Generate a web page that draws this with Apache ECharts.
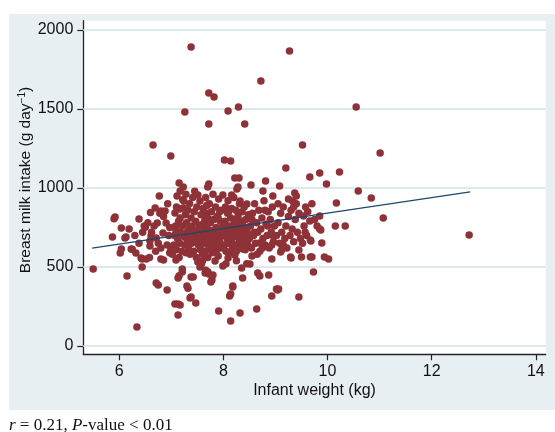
<!DOCTYPE html>
<html>
<head>
<meta charset="utf-8">
<script src="https://cdn.jsdelivr.net/npm/echarts@6/dist/echarts.min.js"></script>
<style>html,body{margin:0;padding:0;background:#fff}#c{width:555px;height:432px}</style>
</head>
<body>
<div id="c"></div>
<script>
// ---- tick labels ----
const weightTicks = [6, 8, 10, 12, 14];
const intakeTicks = [0, 500, 1000, 1500, 2000];
// ---- fitted regression line (kg, g/day) ----
const fitLine = [[5.48, 620], [12.74, 975]];
// ---- observations [infant weight kg, breast milk intake g/day] ----
const pointsHigh = [
  [7.38,1893],[9.27,1867],[8.72,1677],[7.72,1601],[7.82,1576],[7.26,1481],[8.09,1487],[8.29,1513],
  [7.72,1405],[8.41,1405],[10.55,1513],[6.65,1272],[6.99,1203],[9.52,1272],[8.02,1178],[8.14,1171],
  [11.01,1222],[9.20,1127],[9.66,1070],[9.85,1095],[10.23,1101],[9.98,1025],[9.08,1013],[10.59,981],
  [10.84,937],[10.17,905],[11.07,810],[12.72,703],[7.15,1032],[7.23,1006],[6.77,950],[7.72,1025],
  [7.70,1006],[8.22,1063],[8.30,1063],[8.53,1019],[8.81,1044],[8.28,1006],[8.26,994],[8.16,956],
  [8.76,981],[8.95,950],[9.37,969],[9.33,918]
];
const pointsLeft = [
  [5.50,487],[5.92,817],[5.90,805],[5.87,690],[6.04,747],[6.11,684],[6.13,690],[6.19,740],
  [6.02,589],[6.04,614],[6.15,443],[6.34,120],[6.38,804],[6.23,614],[6.25,612],[6.32,589],
  [6.44,551],[6.48,760],[6.50,752],[6.44,500],[6.42,557],[6.38,650],[6.30,700],[6.45,720],
  [6.52,551],[6.59,665],[6.59,633],[6.61,696],[6.67,760],[6.69,874],[6.71,684],[6.71,399],
  [6.75,386],[6.73,779],[6.78,840],[6.80,855],[6.80,620],[6.80,551],[6.84,715],[6.85,545],
  [6.88,855],[6.90,779],[6.92,354],[6.92,640],[6.95,700],[6.97,590],[6.99,620],[6.60,845],
  [6.55,780],[6.62,720],[6.70,600],[6.75,650],[6.85,820],[6.93,900],[6.97,750],[6.58,560]
];
const pointsLow = [
  [7.07,266],[7.13,266],[7.13,196],[7.13,430],[7.15,445],[7.09,544],[7.17,260],[7.21,468],
  [7.21,487],[7.30,380],[7.32,365],[7.36,304],[7.38,310],[7.38,437],[7.42,437],[7.47,272],
  [7.51,532],[7.55,500],[7.58,520],[7.65,462],[7.66,480],[7.72,456],[7.70,470],[7.76,405],
  [7.78,418],[7.80,449],[7.84,538],[7.91,221],[7.99,506],[7.60,540],
  [8.14,158],[8.32,209],[8.12,316],[8.14,329],[8.18,373],[8.18,380],[8.37,430],[8.35,494],
  [8.05,520],[8.25,540],[8.45,520],[8.64,234],[8.66,462],[8.70,443],[8.87,449],[8.93,316],
  [8.51,519],[8.55,570],[8.93,551],[9.02,361],[9.04,354],[9.45,310],[9.30,557],[9.29,563],
  [9.50,563],[9.67,563],[9.70,563],[9.94,563],[10.02,551],[9.73,468]
];
const pointsCore7 = [
  [7.02,580],[7.05,640],[7.06,700],[7.07,842],[7.08,760],[7.09,728],[7.10,610],[7.10,880],
  [7.12,680],[7.14,790],[7.15,560],[7.16,650],[7.17,810],[7.17,867],[7.18,720],[7.20,600],
  [7.21,760],[7.22,925],[7.23,874],[7.24,918],[7.25,690],[7.26,640],[7.27,830],[7.28,590],
  [7.29,780],[7.30,720],[7.31,670],[7.32,860],[7.33,620],[7.34,740],[7.35,900],[7.36,580],
  [7.37,690],[7.38,810],[7.39,650],[7.40,760],[7.41,940],[7.42,700],[7.43,600],[7.44,850],
  [7.45,730],[7.46,670],[7.47,790],[7.48,560],[7.49,880],[7.50,710],[7.11,950],[7.28,960],
  [7.17,981],[7.45,980],[7.51,956],[7.52,640],[7.53,700],[7.54,760],[7.55,918],[7.56,610],
  [7.57,830],[7.58,680],[7.59,740],[7.60,580],[7.61,870],[7.62,650],[7.63,720],[7.64,790],
  [7.65,600],[7.66,940],[7.67,690],[7.68,760],[7.69,840],[7.70,560],[7.71,640],[7.72,710],
  [7.73,900],[7.74,620],[7.75,780],[7.76,680],[7.77,850],[7.78,590],[7.79,730],[7.80,960],
  [7.81,660],[7.82,800],[7.83,700],[7.84,610],[7.85,880],[7.86,750],[7.87,640],[7.88,820],
  [7.89,690],[7.90,570],[7.91,930],[7.92,720],[7.93,660],[7.94,790],[7.95,620],[7.96,860],
  [7.97,700],[7.98,750],[7.99,956],[7.55,680],[7.60,770],[7.65,820],[7.70,670],[7.75,730],
  [7.80,620],[7.85,700],[7.90,810],[7.95,740],[7.62,600],[7.68,890],[7.78,650],[7.88,720],
  [7.93,850],[7.58,740],[7.73,800],[7.86,595]
];
const pointsCore8 = [
  [8.01,700],[8.02,640],[8.03,790],[8.04,880],[8.05,600],[8.06,730],[8.07,680],[8.08,840],
  [8.09,920],[8.10,650],[8.11,760],[8.12,590],[8.13,710],[8.14,810],[8.15,670],[8.16,870],
  [8.17,620],[8.18,740],[8.19,690],[8.20,940],[8.21,780],[8.22,640],[8.23,720],[8.24,860],
  [8.25,600],[8.26,760],[8.27,690],[8.28,820],[8.29,650],[8.30,730],[8.31,900],[8.32,918],
  [8.33,680],[8.34,790],[8.35,620],[8.36,850],[8.37,700],[8.38,760],[8.39,660],[8.40,880],
  [8.41,730],[8.42,610],[8.43,800],[8.44,690],[8.45,899],[8.46,750],[8.47,640],[8.48,830],
  [8.49,710],[8.05,760],[8.15,700],[8.25,800],[8.35,660],[8.10,850],[8.20,610],[8.09,557],
  [8.22,576],[8.37,614],
  [8.50,680],[8.52,760],[8.54,620],[8.56,840],[8.58,700],[8.60,900],[8.62,650],[8.64,780],
  [8.66,720],[8.68,860],[8.70,600],[8.72,740],[8.74,810],[8.76,680],[8.78,920],[8.80,640],
  [8.82,770],[8.84,700],[8.86,850],[8.88,620],[8.90,800],[8.92,720],[8.94,880],[8.96,660],
  [8.98,760],[8.55,800],[8.65,580],[8.75,620],[8.85,760],[8.95,700],[8.60,720],[8.80,860],
  [8.93,639],[8.70,652]
];
const pointsCore9 = [
  [9.02,700],[9.05,780],[9.08,650],[9.10,840],[9.12,720],[9.15,880],[9.18,680],[9.20,760],
  [9.22,620],[9.25,820],[9.28,700],[9.30,860],[9.32,740],[9.35,660],[9.38,800],[9.40,900],
  [9.42,720],[9.45,840],[9.48,680],[9.40,950],[9.35,880],[9.25,930],[9.15,640],[9.05,900],
  [9.10,595],[9.12,610],[9.45,608],[9.06,361],
  [9.54,823],[9.67,671],[9.68,665],[9.89,652],[9.87,734],[9.66,791],[9.85,823],[9.85,740],
  [9.55,760],[9.60,700],[9.58,880],[9.62,850],[9.75,800],[9.52,650],[9.57,720],[9.70,900],
  [9.80,760],[10.15,760],[10.34,760]
];

const allPoints = [].concat(pointsHigh, pointsLeft, pointsLow, pointsCore7, pointsCore8, pointsCore9);

const FONT = '"Liberation Sans", Arial, sans-serif';
const SERIF = '"Liberation Serif", "Times New Roman", serif';

const chart = echarts.init(document.getElementById('c'), null, {renderer: 'canvas'});
chart.setOption({
  animation: false,
  backgroundColor: '#e8eff2',
  graphic: [
    {type: 'rect', shape: {x: 0, y: 0, width: 555, height: 14}, style: {fill: '#ffffff'}, z: -1},
    {type: 'rect', shape: {x: 0, y: 0, width: 9, height: 432}, style: {fill: '#ffffff'}, z: -1},
    {type: 'rect', shape: {x: 0, y: 410, width: 555, height: 22}, style: {fill: '#ffffff'}, z: -1},
    {type: 'text', left: 9, top: 417, z: 10,
      style: {
        text: '{i|r} = 0.21, {i|P}-value < 0.01',
        fontFamily: SERIF, fontSize: 17, fill: '#111',
        rich: {i: {fontStyle: 'italic', fontFamily: SERIF, fontSize: 17, fill: '#111'}}
      }}
  ],
  grid: {left: 83.3, top: 20.7, width: 462.4, height: 333.6, show: true,
    backgroundColor: '#ffffff', borderWidth: 0, containLabel: false},
  xAxis: {
    type: 'value', min: 5.31, max: 14.19,
    name: 'Infant weight (kg)', nameLocation: 'middle', nameGap: 28,
    nameMoveOverlap: false,
    nameTextStyle: {fontFamily: FONT, fontSize: 16, color: '#111'},
    axisLine: {show: true, onZero: false, lineStyle: {color: '#222', width: 1.3}},
    axisTick: {show: true, length: 6, customValues: weightTicks, lineStyle: {color: '#222', width: 1.2}},
    axisLabel: {customValues: weightTicks, margin: 9, fontFamily: FONT, fontSize: 16, color: '#111',
      formatter: v => String(v)},
    splitLine: {show: false}
  },
  yAxis: {
    type: 'value', min: -52.5, max: 2059,
    name: 'Breast milk intake (g day{sup|−1})', nameLocation: 'middle', nameGap: 50,
    nameRotate: 90, nameMoveOverlap: false,
    nameTextStyle: {fontFamily: FONT, fontSize: 15.5, color: '#111', padding: [0, 0, 0, 15],
      rich: {sup: {fontFamily: FONT, fontSize: 10, color: '#111', verticalAlign: 'top', lineHeight: 10, padding: [0, 0, 6, 0]}}},
    axisLine: {show: true, onZero: false, lineStyle: {color: '#222', width: 1.3}},
    axisTick: {show: true, length: 6, customValues: intakeTicks, lineStyle: {color: '#222', width: 1.2}},
    axisLabel: {customValues: intakeTicks, margin: 10, fontFamily: FONT, fontSize: 16, color: '#111',
      formatter: v => String(v)},
    splitLine: {show: false}
  },
  series: [
    {
      type: 'scatter', data: allPoints, z: 3, symbol: 'circle', symbolSize: 7.5,
      itemStyle: {color: '#8e3238', opacity: 1},
      markLine: {
        z: 1, silent: true, symbol: ['none', 'none'], label: {show: false},
        emphasis: {disabled: true},
        lineStyle: {color: '#dde8ea', width: 2, type: 'solid', opacity: 1},
        animation: false,
        data: intakeTicks.map(v => ({yAxis: v}))
      }
    },
    {
      type: 'line', data: fitLine, z: 4, symbol: 'none',
      lineStyle: {color: '#1a476f', width: 1.2}
    }
  ]
});
</script>
</body>
</html>
